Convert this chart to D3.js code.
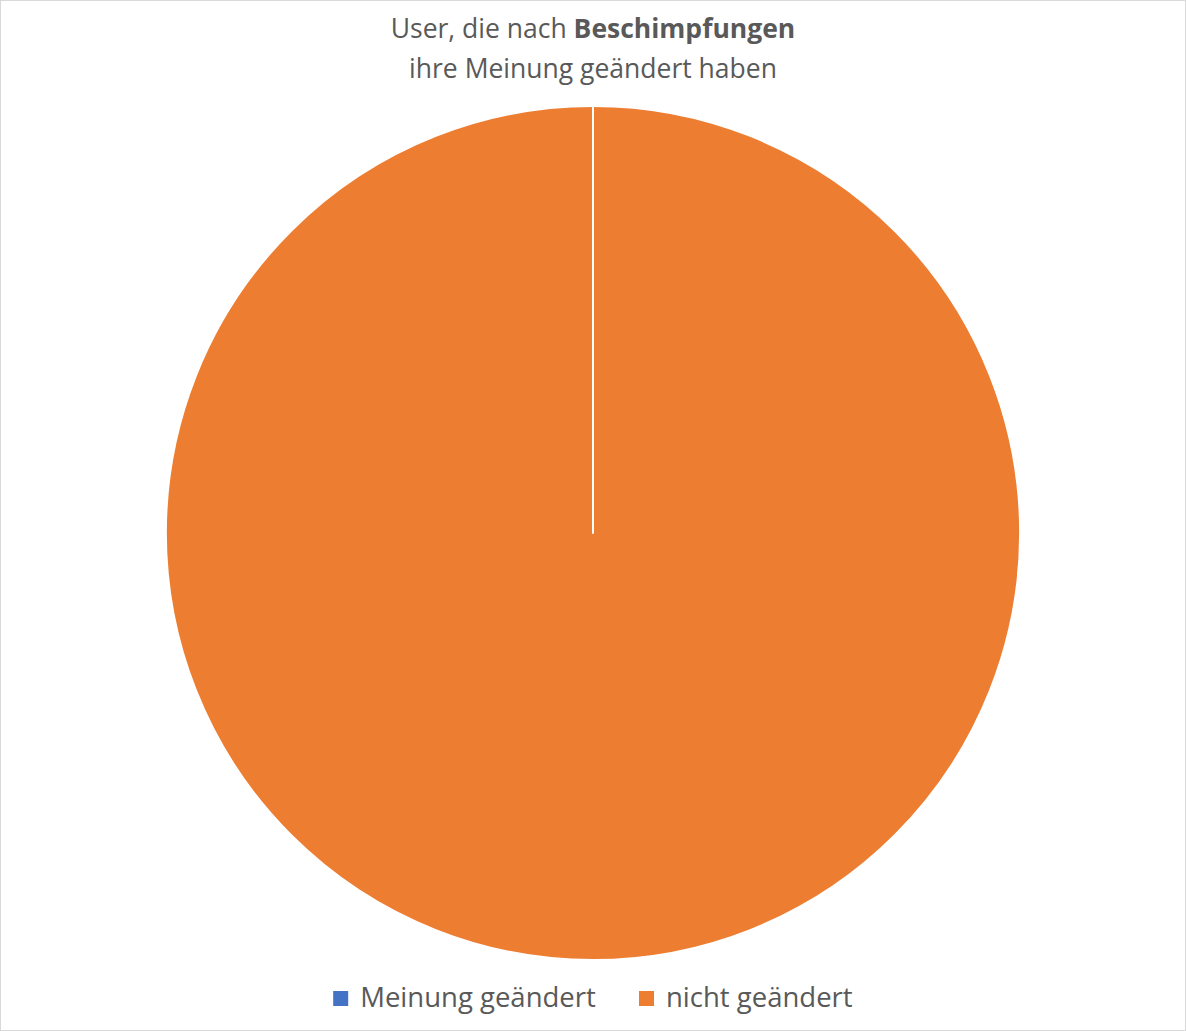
<!DOCTYPE html>
<html>
<head>
<meta charset="UTF-8">
<script src="https://d3js.org/d3.v7.min.js"></script>
<style>
  html, body { margin: 0; padding: 0; background: #fff; }
  svg text { font-family: "Open Sans", "Noto Sans", sans-serif; fill: #595959; }
</style>
</head>
<body>
<svg></svg>
<script>
// data
var categories = ['Meinung geändert', 'nicht geändert'];
var values = [0, 100];
var colors = ['#4472C4', '#ED7D31'];
var titleLines = [
  [{ t: 'User, die nach ', b: false }, { t: 'Beschimpfungen', b: true }],
  [{ t: 'ihre Meinung geändert haben', b: false }]
];

var width = 1186, height = 1031;
var cx = 593, cy = 533, radius = 427;

var svg = d3.select('svg').attr('width', width).attr('height', height);

// chart border
svg.append('rect')
  .attr('x', 0.5).attr('y', 0.5)
  .attr('width', width - 1).attr('height', height - 1)
  .attr('fill', '#fff').attr('stroke', '#d9d9d9');

// title
var title = svg.append('text')
  .attr('text-anchor', 'middle')
  .style('font-size', '26.5px');
titleLines.forEach(function(line, i) {
  var tl = title.append('tspan').attr('x', cx).attr('y', 38 + i * 40);
  line.forEach(function(p) {
    tl.append('tspan').style('font-weight', p.b ? 'bold' : 'normal').text(p.t);
  });
});

// pie
var slices = categories.map(function(c, i) { return { name: c, value: values[i], color: colors[i] }; });
var pie = d3.pie().sort(null).value(function(d) { return d.value; });
var arc = d3.arc().innerRadius(0).outerRadius(radius);
var arcs = pie(slices);

var g = svg.append('g').attr('transform', 'translate(' + cx + ',' + cy + ')');
// larger slices first so the zero slice border sits on top
g.selectAll('path.slice')
  .data(arcs.slice().sort(function(a, b) { return b.value - a.value; }))
  .enter().append('path')
    .attr('class', 'slice')
    .attr('d', arc)
    .attr('fill', function(d) { return d.data.color; })
    .attr('stroke', '#fff')
    .attr('stroke-width', 2)
    .attr('stroke-linejoin', 'round');

// legend
var legend = svg.append('g').attr('class', 'legend');
var items = legend.selectAll('g').data(slices).enter().append('g');
items.append('rect')
  .attr('width', 15).attr('height', 15)
  .attr('y', -16)
  .attr('fill', function(d) { return d.color; });
items.append('text')
  .attr('x', 27).attr('y', 0)
  .style('font-size', '27.5px')
  .text(function(d) { return d.name; });

var xPos = 0, gap = 43;
items.each(function() {
  var w = this.getBBox().width;
  d3.select(this).attr('transform', 'translate(' + xPos + ',0)');
  xPos += w + gap;
});
var total = xPos - gap;
legend.attr('transform', 'translate(' + (cx - total / 2) + ',1007)');
</script>
</body>
</html>
